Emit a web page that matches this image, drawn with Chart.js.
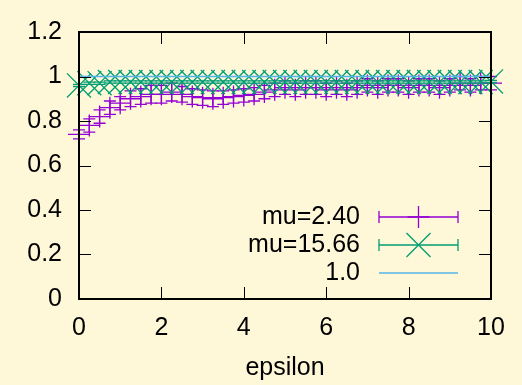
<!DOCTYPE html>
<html>
<head>
<meta charset="utf-8">
<script src="https://cdn.jsdelivr.net/npm/chart.js@4.4.1/dist/chart.umd.min.js"></script>
<style>
  html, body { margin: 0; padding: 0; background: #fef7d8; }
  #wrap { width: 522px; height: 385px; }
</style>
</head>
<body>
<div id="wrap"><canvas id="epsChart" width="522" height="385"></canvas></div>
<script>
// values
const epsilon = [0, 0.25, 0.5, 0.75, 1, 1.25, 1.5, 1.75, 2, 2.25, 2.5, 2.75, 3, 3.25, 3.5, 3.75,
  4, 4.25, 4.5, 4.75, 5, 5.25, 5.5, 5.75, 6, 6.25, 6.5, 6.75, 7, 7.25, 7.5, 7.75,
  8, 8.25, 8.5, 8.75, 9, 9.25, 9.5, 9.75, 10];
const mu240 = [0.74, 0.78, 0.82, 0.86, 0.88, 0.90, 0.91, 0.92, 0.92, 0.93, 0.92, 0.91, 0.905, 0.90, 0.905, 0.91,
  0.915, 0.92, 0.93, 0.94, 0.95, 0.94, 0.95, 0.95, 0.94, 0.95, 0.94, 0.95, 0.96, 0.95, 0.96, 0.96,
  0.95, 0.96, 0.96, 0.95, 0.96, 0.97, 0.96, 0.97, 0.97];
const mu240Err = [0.02, 0.03, 0.03, 0.03, 0.03, 0.035, 0.035, 0.04, 0.04, 0.04, 0.035, 0.035, 0.035, 0.035, 0.03, 0.03,
  0.03, 0.03, 0.03, 0.03, 0.03, 0.03, 0.03, 0.03, 0.03, 0.03, 0.03, 0.03, 0.03, 0.03, 0.03, 0.03,
  0.03, 0.03, 0.03, 0.03, 0.03, 0.03, 0.03, 0.03, 0.03];
const mu1566 = [0.96, 0.97, 0.97, 0.975, 0.975, 0.975, 0.975, 0.975, 0.975, 0.975, 0.975, 0.975, 0.975, 0.975, 0.975, 0.975,
  0.975, 0.975, 0.975, 0.975, 0.975, 0.975, 0.975, 0.975, 0.975, 0.975, 0.975, 0.975, 0.975, 0.975, 0.975, 0.975,
  0.975, 0.975, 0.975, 0.975, 0.975, 0.975, 0.975, 0.975, 0.978];
const mu1566Err = epsilon.map(() => 0.005);
const refX = [0, 10];
const refY = [1.0, 1.0];

const xTicks = [0, 2, 4, 6, 8, 10];
const yTicks = [0, 0.2, 0.4, 0.6, 0.8, 1.0, 1.2];

const bg = "#fef7d8";
const fontFace = "'Liberation Sans', Arial, sans-serif";
const fontSize = 25;
const markLine = 1.3;

function pairs(xs, ys) {
  return xs.map((x, i) => ({ x: x, y: ys[i] }));
}

// background fill
const bgPlugin = {
  id: "bg",
  beforeDraw(chart) {
    const c = chart.ctx;
    c.save();
    c.fillStyle = bg;
    c.fillRect(0, 0, chart.width, chart.height);
    c.restore();
  }
};

// vertical error bars drawn under each dataset's points
const errPlugin = {
  id: "errbars",
  beforeDatasetDraw(chart, args) {
    const ds = chart.data.datasets[args.index];
    if (!ds.errors) return;
    const c = chart.ctx;
    const xs = chart.scales.x, ys = chart.scales.y;
    c.save();
    c.strokeStyle = ds.borderColor;
    c.lineWidth = markLine;
    ds.data.forEach((p, i) => {
      const px = xs.getPixelForValue(p.x);
      const lo = ys.getPixelForValue(p.y - ds.errors[i]);
      const hi = ys.getPixelForValue(p.y + ds.errors[i]);
      c.beginPath();
      c.moveTo(px, lo); c.lineTo(px, hi);
      c.moveTo(px - 6, lo); c.lineTo(px + 6, lo);
      c.moveTo(px - 6, hi); c.lineTo(px + 6, hi);
      c.stroke();
    });
    c.restore();
  }
};

// border box with inward ticks on all four sides
const framePlugin = {
  id: "frame",
  afterDatasetsDraw(chart) {
    const c = chart.ctx;
    const a = chart.chartArea;
    const xs = chart.scales.x, ys = chart.scales.y;
    c.save();
    c.strokeStyle = "#000";
    c.lineWidth = 1;
    c.beginPath();
    xTicks.forEach(v => {
      const px = Math.round(xs.getPixelForValue(v)) + 0.5;
      c.moveTo(px, a.bottom); c.lineTo(px, a.bottom - 12);
      c.moveTo(px, a.top); c.lineTo(px, a.top + 12);
    });
    yTicks.forEach(v => {
      const py = Math.round(ys.getPixelForValue(v)) + 0.5;
      c.moveTo(a.left, py); c.lineTo(a.left + 12, py);
      c.moveTo(a.right, py); c.lineTo(a.right - 12, py);
    });
    c.stroke();
    c.lineWidth = 2;
    c.strokeRect(a.left, a.top, a.right - a.left, a.bottom - a.top);
    c.restore();
  }
};

// gnuplot style key in the lower right
const keyPlugin = {
  id: "key",
  afterDraw(chart) {
    const c = chart.ctx;
    const a = chart.chartArea;
    const textRight = a.right - 131;
    const x0 = a.right - 112, x1 = a.right - 33;
    const xm = (x0 + x1) / 2;
    c.save();
    c.font = fontSize + "px " + fontFace;
    c.textAlign = "right";
    c.textBaseline = "middle";
    chart.data.datasets.forEach((ds, i) => {
      const y = a.bottom - 82 + i * 28;
      c.fillStyle = "#000";
      c.fillText(ds.label, textRight, y);
      c.strokeStyle = ds.borderColor;
      c.lineWidth = markLine;
      c.beginPath();
      c.moveTo(x0, y); c.lineTo(x1, y);
      if (ds.errors) {
        c.moveTo(x0, y - 6); c.lineTo(x0, y + 6);
        c.moveTo(x1, y - 6); c.lineTo(x1, y + 6);
      }
      c.stroke();
      if (ds.pointRadius > 0) {
        Chart.helpers.drawPoint(c, {
          pointStyle: ds.pointStyle, radius: ds.pointRadius,
          borderWidth: markLine, rotation: 0
        }, xm, y);
      }
    });
    c.restore();
  }
};

new Chart(document.getElementById("epsChart"), {
  type: "scatter",
  data: {
    datasets: [
      {
        label: "mu=2.40",
        data: pairs(epsilon, mu240),
        errors: mu240Err,
        borderColor: "#9400d3",
        backgroundColor: "#9400d3",
        pointBorderColor: "#9400d3",
        pointBackgroundColor: "#9400d3",
        pointStyle: "cross",
        pointRadius: 11,
        pointHoverRadius: 11,
        pointBorderWidth: markLine,
        showLine: false,
        clip: false,
        order: 3
      },
      {
        label: "mu=15.66",
        data: pairs(epsilon, mu1566),
        errors: mu1566Err,
        borderColor: "#009e73",
        backgroundColor: "#009e73",
        pointBorderColor: "#009e73",
        pointBackgroundColor: "#009e73",
        pointStyle: "crossRot",
        pointRadius: 17,
        pointHoverRadius: 17,
        pointBorderWidth: markLine,
        showLine: false,
        clip: false,
        order: 2
      },
      {
        label: "1.0",
        data: pairs(refX, refY),
        borderColor: "#56b4e9",
        backgroundColor: "#56b4e9",
        borderWidth: markLine,
        pointRadius: 0,
        showLine: true,
        order: 1
      }
    ]
  },
  options: {
    responsive: false,
    animation: false,
    devicePixelRatio: 1,
    events: [],
    layout: { padding: { top: 22, right: 31, left: 0, bottom: 0 } },
    plugins: {
      legend: { display: false },
      tooltip: { enabled: false }
    },
    scales: {
      x: {
        type: "linear",
        min: 0, max: 10,
        afterBuildTicks: s => { s.ticks = xTicks.map(v => ({ value: v })); },
        afterFit: s => { s.height = 86; },
        grid: { display: false, drawTicks: false },
        border: { display: false },
        ticks: {
          color: "#000",
          padding: 14,
          font: { family: fontFace, size: fontSize },
          callback: v => String(v)
        },
        title: {
          display: true,
          text: "epsilon",
          color: "#000",
          font: { family: fontFace, size: fontSize },
          padding: { top: 0, bottom: 2 }
        }
      },
      y: {
        min: 0, max: 1.2,
        afterBuildTicks: s => { s.ticks = yTicks.map(v => ({ value: v })); },
        afterFit: s => { s.width = 79; },
        grid: { display: false, drawTicks: false },
        border: { display: false },
        ticks: {
          color: "#000",
          padding: 17,
          font: { family: fontFace, size: fontSize },
          callback: v => String(+v.toFixed(1))
        }
      }
    }
  },
  plugins: [bgPlugin, errPlugin, framePlugin, keyPlugin]
});
</script>
</body>
</html>
